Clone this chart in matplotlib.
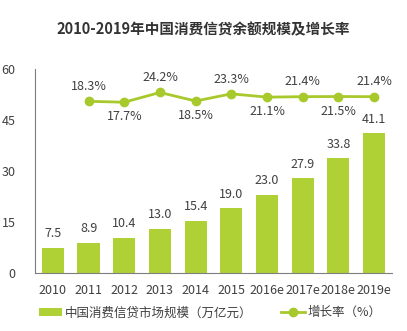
import matplotlib.pyplot as plt
import numpy as np

plt.rcParams['font.family'] = ['Noto Sans CJK SC', 'DejaVu Sans']

years = ['2010', '2011', '2012', '2013', '2014', '2015', '2016e', '2017e', '2018e', '2019e']
scale = [7.5, 8.9, 10.4, 13.0, 15.4, 19.0, 23.0, 27.9, 33.8, 41.1]
growth = [18.3, 17.7, 24.2, 18.5, 23.3, 21.1, 21.4, 21.5, 21.4]

bar_color = '#b0d136'
line_color = '#a8c92c'
text_color = '#404040'

fig = plt.figure(figsize=(4.07, 3.31), dpi=100)
ax = fig.add_axes([0.086, 0.175, 0.877, 0.617])

x = np.arange(len(years))
bars = ax.bar(x, scale, width=0.62, color=bar_color, label='中国消费信贷市场规模（万亿元）', zorder=2)
for xi, v in zip(x, scale):
    ax.text(xi, v + 2.2, f'{v:.1f}', ha='center', va='bottom', fontsize=9, color=text_color)

ax.set_xlim(-0.5, len(years) - 0.5)
ax.set_ylim(0, 60)
ax.set_yticks([0, 15, 30, 45, 60])
ax.set_xticks(x)
ax.set_xticklabels(years)
ax.tick_params(axis='both', length=0, labelsize=9, colors=text_color)
ax.tick_params(axis='y', pad=14)
ax.tick_params(axis='x', pad=8)
for s in ['top', 'right']:
    ax.spines[s].set_visible(False)
for s in ['left', 'bottom']:
    ax.spines[s].set_color('#7f7f7f')

ax2 = ax.twinx()
ax2.set_ylim(-96.5, 40)
ax2.axis('off')
gx = x[1:]
ax2.plot(gx, growth, color=line_color, lw=2, marker='o', ms=6, label='增长率（%）')
for i, (xi, g) in enumerate(zip(gx, growth)):
    if i % 2 == 0:
        ax2.text(xi, g + 5.5, f'{g}%', ha='center', va='bottom', fontsize=9, color=text_color)
    else:
        ax2.text(xi, g - 5.5, f'{g}%', ha='center', va='top', fontsize=9, color=text_color)

fig.text(0.5, 0.912, '2010-2019年中国消费信贷余额规模及增长率', ha='center', va='center',
         fontsize=10.5, fontweight='bold', color='#333333')

h1, l1 = ax.get_legend_handles_labels()
h2, l2 = ax2.get_legend_handles_labels()
fig.legend(h1 + h2, l1 + l2, loc='center', bbox_to_anchor=(0.516, 0.055), ncol=2,
           frameon=False, fontsize=9, columnspacing=2.3, handlelength=1.9,
           handleheight=0.6, handletextpad=0.2, labelcolor=text_color)

fig.savefig('out.png', dpi=100)
